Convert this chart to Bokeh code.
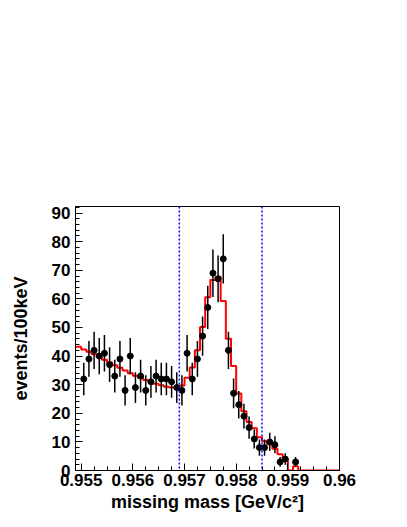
import numpy as np
from bokeh.plotting import figure
from bokeh.models import Range1d, FixedTicker, Span, ColumnDataSource
from bokeh.embed import file_html
from bokeh.resources import INLINE

# ---- data -------------------------------------------------------------
# histogram binning: 100 keV bins, low edges from 0.9549 GeV
bin_low_edges = [round(0.9549 + 0.0001 * i, 5) for i in range(51)]
bin_upper_end = 0.9600

# measured events per bin (bins starting at 0.9550 GeV)
data_counts = [32, 39, 42, 40, 41, 37, 33, 39, 28, 40,
               29, 33, 28, 31, 33, 32, 32, 31, 29, 28,
               41, 32, 39, 47, 57, 69, 67, 74, 42, 27,
               23, 19, 15, 11, 8, 8, 10, 9, 3, 4,
               0, 3]

# fit / simulation histogram (bins starting at 0.9549 GeV)
fit_values = [43.3, 42.3, 41.5, 40.6, 39.6, 38.7, 37.8, 36.8, 35.9, 35.0,
              34.0, 33.1, 32.3, 31.6, 30.9, 30.3, 29.8, 29.3, 29.0, 28.8,
              29.7, 32.4, 36.0, 42.0, 50.2, 60.6, 66.6, 67.7, 59.3, 46.1,
              36.5, 26.9, 20.7, 17.0, 14.8, 11.6, 10.2, 9.2, 7.6, 5.7,
              4.0, 0.0, 1.5, 0.0, 0.0, 0.0, 0.0, 0.0, 0.0, 0.0, 0.0]

cut_lines = [0.9569, 0.9585]

x_ticks = [0.955, 0.956, 0.957, 0.958, 0.959, 0.960]
x_tick_labels = ["0.955", "0.956", "0.957", "0.958", "0.959", "0.96"]
y_ticks = [0, 10, 20, 30, 40, 50, 60, 70, 80, 90]

# ---- derived ----------------------------------------------------------
edges = np.array(bin_low_edges + [bin_upper_end])
centers = (edges[:-1] + edges[1:]) / 2.0
data_x = centers[1:1 + len(data_counts)]
counts = np.array(data_counts, dtype=float)
keep = counts > 0
dx = data_x[keep]
dy = counts[keep]
err = np.sqrt(dy)

x_minor = [round(0.955 + 0.00025 * i, 5) for i in range(21)]
y_minor = list(range(0, 93, 2))

FONT = "Liberation Sans"

p = figure(width=400, height=519, output_backend="svg", toolbar_location=None,
           x_range=Range1d(0.95489, 0.9600), y_range=Range1d(0, 92.3),
           min_border_left=75, min_border_right=61, min_border_top=206,
           min_border_bottom=49)
p.grid.visible = False
p.outline_line_color = "black"
p.outline_line_width = 1
p.background_fill_color = "white"
p.border_fill_color = "white"

# red fit histogram
p.step(x=list(edges), y=fit_values + [fit_values[-1]], mode="after",
       line_color="#ff0000", line_width=2)

# data with errors
src = ColumnDataSource(dict(x=dx, y=dy, lo=dy - err, hi=dy + err))
p.segment(x0="x", y0="lo", x1="x", y1="hi", source=src,
          line_color="black", line_width=1.5)
p.scatter(x="x", y="y", source=src, size=6, color="black")

for c in cut_lines:
    p.add_layout(Span(location=c, dimension="height", line_color="#0000ff",
                      line_width=1.5, line_dash="2 2"))

# axes
xa = p.xaxis[0]
xa.ticker = FixedTicker(ticks=x_ticks, minor_ticks=x_minor)
xa.major_label_overrides = {t: l for t, l in zip(x_ticks, x_tick_labels)}
ya = p.yaxis[0]
ya.ticker = FixedTicker(ticks=y_ticks, minor_ticks=y_minor)

for ax in (xa, ya):
    ax.major_tick_in = 7
    ax.major_tick_out = 0
    ax.minor_tick_in = 4
    ax.minor_tick_out = 0
    ax.axis_line_color = "black"
    ax.major_tick_line_color = "black"
    ax.minor_tick_line_color = "black"
    ax.major_label_text_font = FONT
    ax.major_label_text_font_style = "bold"
    ax.major_label_text_font_size = "17px"
    ax.major_label_text_color = "black"
    ax.axis_label_text_font = FONT
    ax.axis_label_text_font_style = "bold"
    ax.axis_label_text_font_size = "18px"
    ax.axis_label_text_color = "black"

xa.axis_label = "missing mass [GeV/c²]"
xa.major_label_standoff = 3
xa.axis_label_standoff = 3
ya.axis_label = "events/100keV"
ya.major_label_standoff = 5
ya.axis_label_standoff = 18

open("out.html", "w").write(file_html(p, INLINE))
